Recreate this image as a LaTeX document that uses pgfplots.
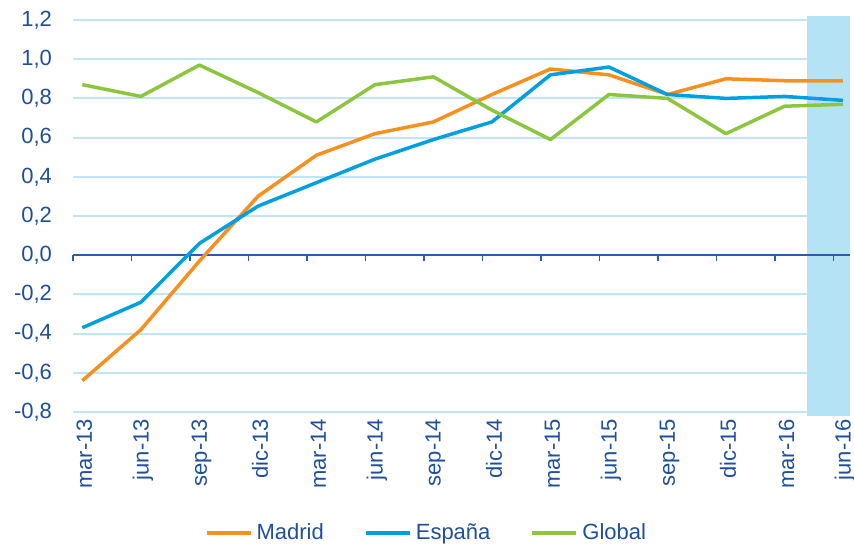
\documentclass[border=0pt]{standalone}
\usepackage{fontspec}
\setmainfont{Liberation Sans}
\usepackage{pgfplots}
\pgfplotsset{compat=1.18}
\definecolor{txt}{HTML}{1F4E9B}
\definecolor{gridc}{HTML}{BEE6F7}
\definecolor{madrid}{HTML}{F7901E}
\definecolor{espana}{HTML}{00A0E0}
\definecolor{global}{HTML}{8CC63F}
\definecolor{shadec}{HTML}{B5E3F6}
\definecolor{axisline}{HTML}{2A5CAA}
\begin{document}
\begin{tikzpicture}[x=1pt,y=1pt]
\useasboundingbox (-36.5,-66.5) rectangle (390.5,206);
\begin{axis}[
  at={(0,0)}, anchor=south west, scale only axis,
  width=388.5pt, height=196pt,
  xmin=-0.16, xmax=13.12, ymin=-0.8, ymax=1.2,
  clip=false,
  axis line style={draw=none},
  major tick length=0pt,
  ytick={-0.8,-0.6,-0.4,-0.2,0,0.2,0.4,0.6,0.8,1.0,1.2},
  ymajorgrids, grid style={gridc, line width=1pt},
  xtick={0,1,2,3,4,5,6,7,8,9,10,11,12,13},
  xticklabels={mar-13,jun-13,sep-13,dic-13,mar-14,jun-14,sep-14,dic-14,mar-15,jun-15,sep-15,dic-15,mar-16,jun-16},
  xticklabel style={rotate=90, anchor=east, yshift=-1pt},
  tick label style={font=\fontsize{11}{13}\selectfont, text=txt},
  yticklabel style={xshift=-7pt},
  /pgf/number format/.cd, fixed, fixed zerofill, precision=1, use comma, assume math mode=true,
  /pgfplots/.cd,
  legend columns=3,
  legend style={at={(axis description cs:0.456,-0.309)}, anchor=center, draw=none, fill=none,
    font=\fontsize{11}{13}\selectfont, text=txt,
    /tikz/every even column/.append style={column sep=18pt}},
  legend image code/.code={\draw[#1, line width=2pt] (0pt,0pt) -- (22pt,0pt);},
]
\fill[shadec] (axis cs:12.38,-0.82) rectangle (axis cs:13.12,1.22);
\draw[axisline, line width=1pt] (axis cs:-0.16,0) -- (axis cs:13.12,0);
\pgfplotsinvokeforeach{-0.16,0.84,1.84,2.84,3.84,4.84,5.84,6.84,7.84,8.84,9.84,10.84,11.84,12.84}{
  \draw[axisline, line width=0.8pt] (axis cs:#1,0) -- ++(0pt,-3pt);
}
\addplot[madrid, line width=1.75pt, line join=round] coordinates {
(0,-0.64) (1,-0.38) (2,-0.03) (3,0.30) (4,0.51) (5,0.62) (6,0.68) (7,0.82) (8,0.95) (9,0.92) (10,0.82) (11,0.90) (12,0.89) (13,0.89)};
\addlegendentry{Madrid}
\addplot[espana, line width=1.75pt, line join=round] coordinates {
(0,-0.37) (1,-0.24) (2,0.06) (3,0.25) (4,0.37) (5,0.49) (6,0.59) (7,0.68) (8,0.92) (9,0.96) (10,0.82) (11,0.80) (12,0.81) (13,0.79)};
\addlegendentry{España}
\addplot[global, line width=1.75pt, line join=round] coordinates {
(0,0.87) (1,0.81) (2,0.97) (3,0.83) (4,0.68) (5,0.87) (6,0.91) (7,0.74) (8,0.59) (9,0.82) (10,0.80) (11,0.62) (12,0.76) (13,0.77)};
\addlegendentry{Global}
\end{axis}
\end{tikzpicture}
\end{document}
